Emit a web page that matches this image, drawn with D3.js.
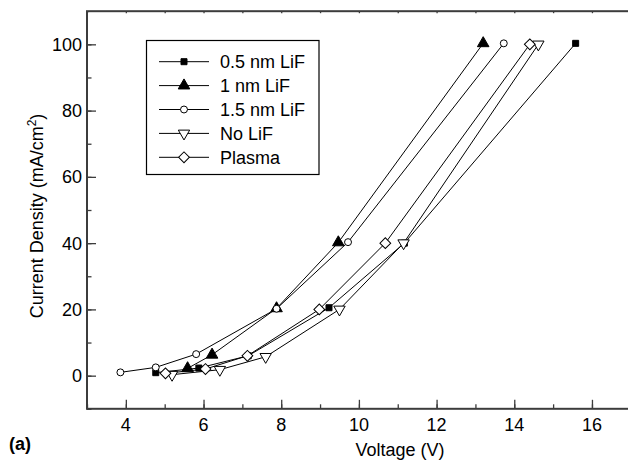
<!DOCTYPE html>
<html>
<head>
<meta charset="utf-8">
<script src="https://cdn.jsdelivr.net/npm/d3@7"></script>
<style>
	body { margin: 0; background: #fff; }
	text { font-family: "Liberation Sans", Arial, sans-serif; fill: #000; }
</style>
</head>
<body>
<div id="chart"></div>
<script>
// data (voltage V, current density mA/cm2)
var seriesNames = ['0.5 nm LiF', '1 nm LiF', '1.5 nm LiF', 'No LiF', 'Plasma']

var lif05 = [[4.77, 0.9], [5.88, 2.3], [7.15, 6], [9.23, 20.5], [11.17, 40], [15.58, 100.3]]
var lif10 = [[5.59, 2.2], [6.22, 6.3], [7.88, 20.3], [9.47, 40.2], [13.2, 100.3]]
var lif15 = [[3.86, 1], [4.77, 2.5], [5.81, 6.5], [7.88, 20.2], [9.72, 40.3], [13.73, 100.3]]
var noLif = [[5.19, 0.3], [6.42, 1.8], [7.6, 5.7], [9.5, 20], [11.15, 40], [14.62, 100]]
var plasma = [[5.02, 0.7], [6.05, 2], [7.13, 6], [8.98, 20], [10.68, 40], [14.4, 100]]

var xTicks = [4, 6, 8, 10, 12, 14, 16]
var yTicks = [0, 20, 40, 60, 80, 100]

var width = 628,
		height = 465,
		fontSize = 18

var svg = d3.select('#chart')
	.append('svg')
		.attr('width', width)
		.attr('height', height)

var x = d3.scaleLinear().domain([3, 17]).range([87, 630.8])
var y = d3.scaleLinear().domain([-10, 110]).range([408.8, 11.2])

// marker styles
var markers = [
	{ type: d3.symbolSquare, size: 36, fill: '#000', rotate: 0 },
	{ type: d3.symbolTriangle, size: 58, fill: '#000', rotate: 0 },
	{ type: d3.symbolCircle, size: 38, fill: '#fff', rotate: 0 },
	{ type: d3.symbolTriangle, size: 56, fill: '#fff', rotate: 180 },
	{ type: d3.symbolSquare, size: 58, fill: '#fff', rotate: 45 }
]

var series = [lif05, lif10, lif15, noLif, plasma].map(function(pts, i) {
	return { name: seriesNames[i], points: pts, marker: markers[i] }
})

// ticks
var axisColor = '#3c3c3c'

function ticks(axis, pos, values, size) {
	svg.append('g')
			.attr('transform', pos)
			.call(axis.tickValues(values).tickSize(size).tickFormat(''))
			.call(function(g) { g.select('.domain').remove() })
			.selectAll('line')
				.attr('stroke', axisColor)
				.attr('stroke-width', 1.3)
}

ticks(d3.axisTop(x), 'translate(0,' + y(-10) + ')', d3.range(3, 17, 1), 4.5)
ticks(d3.axisTop(x), 'translate(0,' + y(-10) + ')', xTicks, 9)
ticks(d3.axisBottom(x), 'translate(0,' + y(110) + ')', d3.range(3, 17, 1), 2)
ticks(d3.axisRight(y), 'translate(' + x(3) + ',0)', d3.range(-10, 110, 10), 4.5)
ticks(d3.axisRight(y), 'translate(' + x(3) + ',0)', yTicks, 9)

// frame (right side runs off the canvas)
svg.append('rect')
		.attr('x', x(3))
		.attr('y', y(110))
		.attr('width', x(17) - x(3))
		.attr('height', y(-10) - y(110))
		.attr('fill', 'none')
		.attr('stroke', axisColor)
		.attr('stroke-width', 2)

// tick labels
svg.append('g').selectAll('text')
		.data(xTicks).enter()
	.append('text')
		.attr('x', function(d) { return x(d) })
		.attr('y', 431)
		.attr('text-anchor', 'middle')
		.attr('font-size', fontSize)
		.text(function(d) { return d })

svg.append('g').selectAll('text')
		.data(yTicks).enter()
	.append('text')
		.attr('x', 82)
		.attr('y', function(d) { return y(d) + 6.4 })
		.attr('text-anchor', 'end')
		.attr('font-size', fontSize)
		.text(function(d) { return d })

// axis titles
svg.append('text')
		.attr('x', 400)
		.attr('y', 456)
		.attr('text-anchor', 'middle')
		.attr('font-size', fontSize)
		.text('Voltage (V)')

var yTitle = svg.append('text')
		.attr('transform', 'translate(43,216) rotate(-90)')
		.attr('text-anchor', 'middle')
		.attr('font-size', fontSize)
yTitle.append('tspan').text('Current Density (mA/cm')
yTitle.append('tspan').attr('baseline-shift', 'super').attr('font-size', 12).text('2')
yTitle.append('tspan').text(')')

svg.append('text')
		.attr('x', 9)
		.attr('y', 450)
		.attr('font-size', 18)
		.attr('font-weight', 'bold')
		.text('(a)')

// curves
var line = d3.line()
	.x(function(d) { return x(d[0]) })
	.y(function(d) { return y(d[1]) })

svg.append('g').selectAll('path')
		.data(series).enter()
	.append('path')
		.attr('d', function(d) { return line(d.points) })
		.attr('fill', 'none')
		.attr('stroke', '#000')
		.attr('stroke-width', 1)

function drawMarker(g, m, cx, cy) {
	g.append('path')
		.attr('d', d3.symbol().type(m.type).size(m.size)())
		.attr('transform', 'translate(' + cx + ',' + cy + ') rotate(' + m.rotate + ')')
		.attr('fill', m.fill)
		.attr('stroke', '#000')
		.attr('stroke-width', 1)
}

var markG = svg.append('g')
series.forEach(function(s) {
	s.points.forEach(function(p) {
		drawMarker(markG, s.marker, x(p[0]), y(p[1]))
	})
})

// legend
var legend = svg.append('g')

legend.append('rect')
		.attr('x', 146.5)
		.attr('y', 40.5)
		.attr('width', 172.5)
		.attr('height', 134)
		.attr('fill', '#fff')
		.attr('stroke', '#000')
		.attr('stroke-width', 1.2)

series.forEach(function(s, i) {
	var ly = 61.7 + i * 23.9
	legend.append('line')
		.attr('x1', 159)
		.attr('x2', 209)
		.attr('y1', ly)
		.attr('y2', ly)
		.attr('stroke', '#000')
		.attr('stroke-width', 1)
	drawMarker(legend, s.marker, 184, ly)
	legend.append('text')
		.attr('x', 220)
		.attr('y', ly + 6.4)
		.attr('font-size', fontSize)
		.text(s.name)
})
</script>
</body>
</html>
